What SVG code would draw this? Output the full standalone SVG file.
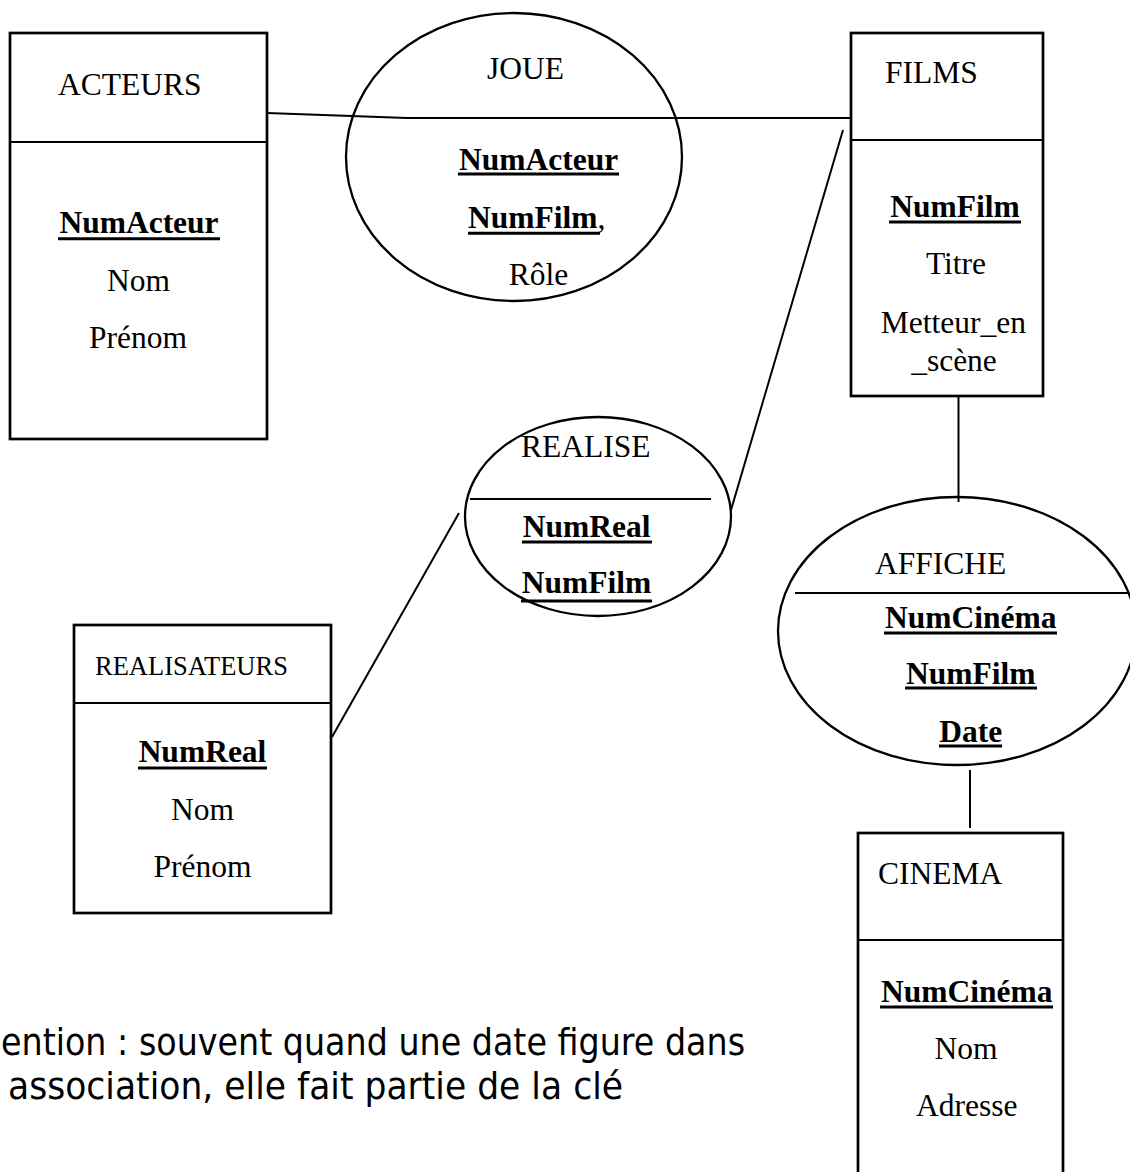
<svg xmlns="http://www.w3.org/2000/svg" width="1130" height="1172" viewBox="0 0 1130 1172">
<style>
  .box { fill: none; stroke: #000; stroke-width: 2.7; }
  .div { stroke: #000; stroke-width: 2; }
  .ell { fill: none; stroke: #000; stroke-width: 2.3; }
  .conn { fill: none; stroke: #000; stroke-width: 2; }
  .ul { stroke: #000; stroke-width: 3; }
  text { font-family: "Liberation Serif", "Times New Roman", serif; font-size: 31.5px; fill: #000; }
  .b { font-weight: bold; }
  .m { text-anchor: middle; }
  .small { font-size: 26.5px; }
  .note { font-family: "DejaVu Sans", "Liberation Sans", sans-serif; font-size: 38px; }
</style>
<rect width="1130" height="1172" fill="#fff"/>

<g id="connectors">
  <polyline class="conn" points="267,113 407,118 850,118"/>
  <line class="conn" x1="843" y1="130" x2="731" y2="510"/>
  <line class="conn" x1="958.5" y1="396" x2="958.5" y2="502"/>
  <line class="conn" x1="332" y1="737" x2="459" y2="513"/>
  <line class="conn" x1="970" y1="770" x2="970" y2="828"/>
</g>

<g id="acteurs">
  <rect class="box" x="10" y="33" width="257" height="406"/>
  <line class="div" x1="10" y1="142" x2="267" y2="142"/>
  <text x="58" y="95">ACTEURS</text>
  <text class="b m" x="139" y="233">NumActeur</text>
  <line class="ul" x1="58" y1="238.7" x2="220" y2="238.7"/>
  <text class="m" x="138.5" y="291">Nom</text>
  <text class="m" x="138" y="348">Prénom</text>
</g>

<g id="joue">
  <ellipse class="ell" cx="514" cy="157" rx="168" ry="144"/>
  <text x="487" y="79">JOUE</text>
  <text class="b m" x="538.6" y="170">NumActeur</text>
  <line class="ul" x1="458" y1="174" x2="619" y2="174"/>
  <text x="468" y="228"><tspan class="b">NumFilm</tspan>,</text>
  <line class="ul" x1="468" y1="233.3" x2="600" y2="233.3"/>
  <text class="m" x="538.5" y="285">Rôle</text>
</g>

<g id="films">
  <rect class="box" x="851" y="33" width="192" height="363"/>
  <line class="div" x1="851" y1="140" x2="1043" y2="140"/>
  <text x="885" y="83">FILMS</text>
  <text class="b m" x="955" y="217">NumFilm</text>
  <line class="ul" x1="889" y1="222" x2="1021" y2="222"/>
  <text class="m" x="956" y="274">Titre</text>
  <text class="m" x="953.3" y="333">Metteur_en</text>
  <text class="m" x="954" y="371">_scène</text>
</g>

<g id="realise">
  <ellipse class="ell" cx="598" cy="516.5" rx="133" ry="99.5"/>
  <line class="div" x1="470" y1="499" x2="711" y2="499"/>
  <text x="521" y="457">REALISE</text>
  <text class="b m" x="586.7" y="537">NumReal</text>
  <line class="ul" x1="522" y1="542" x2="652" y2="542"/>
  <text class="b m" x="586.5" y="593">NumFilm</text>
  <line class="ul" x1="521" y1="601" x2="652" y2="601"/>
</g>

<g id="realisateurs">
  <rect class="box" x="74" y="625" width="257" height="288"/>
  <line class="div" x1="74" y1="703" x2="331" y2="703"/>
  <text class="small" x="95" y="675">REALISATEURS</text>
  <text class="b m" x="202.5" y="762">NumReal</text>
  <line class="ul" x1="138" y1="768" x2="267" y2="768"/>
  <text class="m" x="202.5" y="820">Nom</text>
  <text class="m" x="202.5" y="876.7">Prénom</text>
</g>

<g id="affiche">
  <ellipse class="ell" cx="957" cy="631" rx="179" ry="134"/>
  <line class="div" x1="795" y1="593" x2="1128" y2="593"/>
  <text x="875" y="574">AFFICHE</text>
  <text class="b m" x="970.7" y="628.3">NumCinéma</text>
  <line class="ul" x1="884" y1="633" x2="1057" y2="633"/>
  <text class="b m" x="970.8" y="684">NumFilm</text>
  <line class="ul" x1="905" y1="688" x2="1037" y2="688"/>
  <text class="b m" x="970.7" y="741.7">Date</text>
  <line class="ul" x1="939" y1="746" x2="1002" y2="746"/>
</g>

<g id="cinema">
  <rect class="box" x="858" y="833" width="205" height="360"/>
  <line class="div" x1="858" y1="940" x2="1063" y2="940"/>
  <text x="878" y="884">CINEMA</text>
  <text class="b m" x="966.7" y="1001.7">NumCinéma</text>
  <line class="ul" x1="880" y1="1007" x2="1053" y2="1007"/>
  <text class="m" x="966" y="1059">Nom</text>
  <text class="m" x="966.7" y="1116">Adresse</text>
</g>

<g id="note">
  <text class="note" x="1" y="1055" textLength="744" lengthAdjust="spacingAndGlyphs">ention : souvent quand une date figure dans</text>
  <text class="note" x="8" y="1099" textLength="615" lengthAdjust="spacingAndGlyphs">association, elle fait partie de la clé</text>
</g>
</svg>
